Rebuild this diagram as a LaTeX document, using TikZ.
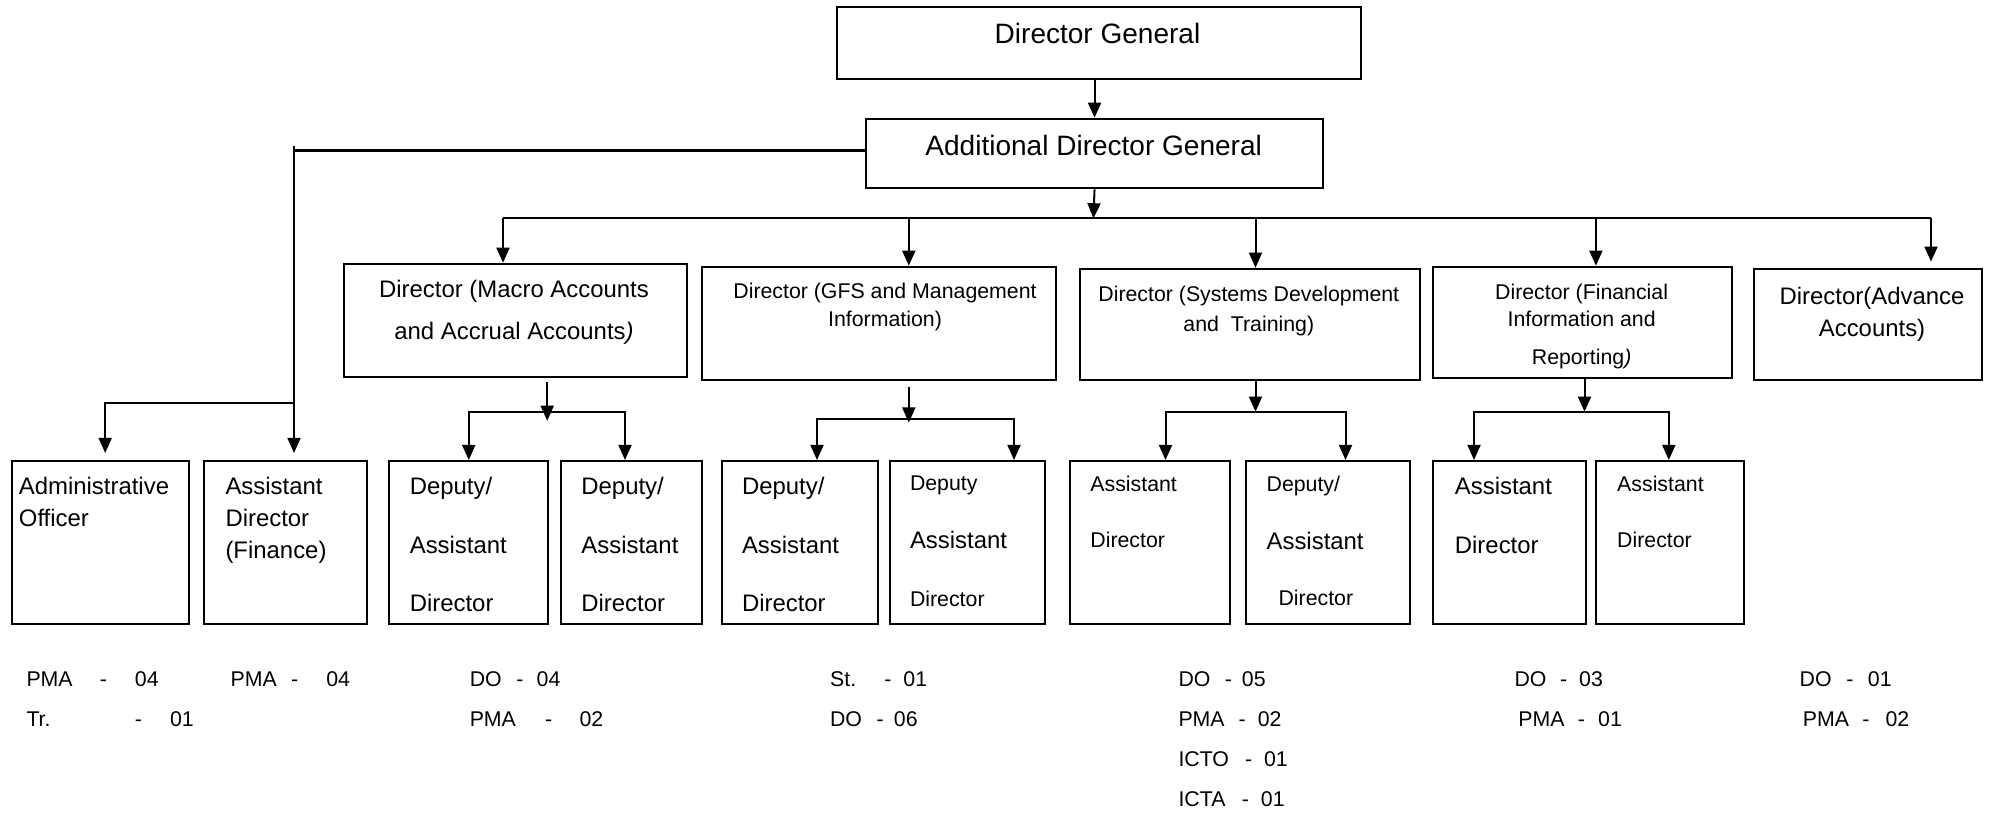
\documentclass[tikz,border=0pt]{standalone}
\usepackage{fontspec}
\setmainfont{Liberation Sans}
\usetikzlibrary{arrows.meta,calc}
\newcommand{\fs}{\fontsize{6.06}{7}\selectfont}
\newcommand{\stf}[4]{\makebox[#2pt][l]{#1}\makebox[#3pt][l]{-}#4}

\begin{document}
\begin{tikzpicture}[x=0.01cm,y=-0.01cm,line width=0.57pt,>={Triangle[length=4.3pt,width=3.7pt]},
box/.style={draw,inner sep=0pt,anchor=north west},sub/.style={box,minimum height=1.627cm},
txt/.style={inner sep=0pt,align=left,anchor=north west},ctr/.style={inner sep=0pt,align=center,anchor=north},
big/.style={font=\fontsize{7.97}{9.5}\selectfont},mid/.style={font=\fontsize{6.8}{#1}\selectfont},sml/.style={font=\fontsize{6.06}{#1}\selectfont}]
\useasboundingbox (0,0) rectangle (1994,812);
% head of the office
\node[box,minimum width=5.239cm,minimum height=0.723cm] (dg) at (835.5,5.7) {};
\node[big,inner sep=0pt,anchor=base] (dg-t) at (1097.5,43.3) {Director General};
\node[box,minimum width=4.56cm,minimum height=0.696cm] (adg) at (865.4,117.7) {};
\node[big,inner sep=0pt,anchor=base] (adg-t) at (1093.7,155) {Additional Director General};
% directors
\node[box,minimum width=3.426cm,minimum height=1.133cm] (macro) at (343,262.7) {};
\node[ctr,mid=11.87] (macro-t) at (514,279.5) {Director (Macro Accounts\\and Accrual Accounts\textit{)}};
\node[box,minimum width=3.536cm,minimum height=1.136cm] (gfs) at (700.9,265.7) {};
\node[ctr,sml=8.05] (gfs-t) at (885,282.1) {Director (GFS and Management\\Information)};
\node[box,minimum width=3.404cm,minimum height=1.116cm] (sys) at (1078.6,267.7) {};
\node[ctr,sml=8.71] (sys-t) at (1248.8,284.8) {Director (Systems Development\\and\ \ Training)};
\node[box,minimum width=2.987cm,minimum height=1.11cm] (fin) at (1432.3,265.7) {};
\node[ctr,sml=7.85] (fin-t) at (1581.6,282.8) {Director (Financial\\Information and\\[2.88pt]Reporting\textit{)}};
\node[box,minimum width=2.288cm,minimum height=1.107cm] (adv) at (1752.5,268.3) {};
\node[ctr,mid=9.02] (adv-t) at (1872,286.2) {Director(Advance\\Accounts)};
% officers
\node[sub,minimum width=1.775cm] (ao) at (10.5,460) {};
\node[txt,mid=9.02] (ao-t) at (17.9,476.2) {Administrative\\Officer};
\node[sub,minimum width=1.626cm] (adf) at (203.4,460) {};
\node[txt,mid=9.1] (adf-t) at (224.5,476.2) {Assistant\\Director\\(Finance)};
\node[sub,minimum width=1.588cm] (dad1) at (388.4,460) {};
\node[txt,mid=16.7] (dad1-t) at (408.8,476.2) {Deputy/\\Assistant\\Director};
\node[sub,minimum width=1.409cm] (dad2) at (560,460) {};
\node[txt,mid=16.7] (dad2-t) at (580.4,476.2) {Deputy/\\Assistant\\Director};
\node[sub,minimum width=1.562cm] (dad3) at (720.7,460) {};
\node[txt,mid=16.7] (dad3-t) at (741,476.2) {Deputy/\\Assistant\\Director};
\node[sub,minimum width=1.55cm] (dad4) at (889.3,460) {};
\node[txt,mid=16.6] (dad4-t) at (909,474.5) {{\fs Deputy}\\Assistant\\{\fs Director}};
\node[sub,minimum width=1.603cm] (ad1) at (1068.5,460) {};
\node[txt,sml=15.93] (ad1-t) at (1089.4,475.4) {Assistant\\Director};
\node[sub,minimum width=1.642cm] (dad5) at (1244.7,460) {};
\node[txt,mid=16.4] (dad5-t) at (1265.6,475.4) {{\fs Deputy/}\\Assistant\\[-0.55pt]\hspace*{3.4pt}{\fs Director}};
\node[sub,minimum width=1.522cm] (ad2) at (1432.3,460) {};
\node[txt,mid=16.9] (ad2-t) at (1453.9,476.2) {Assistant\\Director};
\node[sub,minimum width=1.478cm] (ad3) at (1595.2,460) {};
\node[txt,sml=15.93] (ad3-t) at (1616.2,475.4) {Assistant\\Director};
% staff strength
\node[txt,sml=11.38] (ao-s) at (25.5,670.6) {\stf{PMA}{20.88}{9.96}{04}\\\stf{Tr.}{30.84}{9.99}{01}};
\node[txt,sml=11.38] (adf-s) at (229.6,670.6) {\stf{PMA}{17.24}{9.99}{04}};
\node[txt,sml=11.38] (macro-s) at (468.75,670.6) {\stf{DO}{13.23}{5.8}{04}\\\stf{PMA}{21.43}{9.79}{02}};
\node[txt,sml=11.38] (gfs-s) at (829.1,670.6) {\stf{St.}{15.42}{5.43}{01}\\\stf{DO}{13.23}{4.92}{06}};
\node[txt,sml=11.38] (sys-s) at (1177.5,670.6) {\stf{DO}{13.17}{4.87}{05}\\\stf{PMA}{17.13}{5.41}{02}\\\stf{ICTO}{18.92}{5.41}{01}\\\stf{ICTA}{18.04}{5.41}{01}};
\node[txt,sml=11.38] (fin-s) at (1513.5,670.6) {\stf{DO}{12.97}{5.41}{03}\\\hspace*{1.08pt}\stf{PMA}{16.96}{5.75}{01}};
\node[txt,sml=11.38] (adv-s) at (1798.7,670.6) {\stf{DO}{13.3}{6.1}{01}\\\hspace*{0.91pt}\stf{PMA}{16.9}{6.6}{02}};
% connectors
\draw[->] (adg.north |- dg.south) -- (adg.north);
\coordinate (bus) at (1093.4,218.3);
\draw[->] (adg.south) -- (bus);
\coordinate (b1) at (503,218.3);
\coordinate (b2) at (908.8,218.3);
\coordinate (b3) at (1255.5,218.3);
\coordinate (b4) at (1595.9,218.3);
\coordinate (b5) at (1931,218.3);
\draw (b1) -- (b5);
\draw[->] (b1) -- (b1 |- macro.north);
\draw[->] (b2) -- (b2 |- gfs.north);
\draw[->] (b3) -- (b3 |- sys.north);
\draw[->] (b4) -- (b4 |- fin.north);
\draw[->,shorten >=1.9pt] (b5) -- (b5 |- adv.north);
% left branch
\coordinate (lf) at (294,150.5);
\coordinate (lb) at (294,403.3);
\coordinate (ao-x) at (105.2,403.3);
\draw (lf -| adg.west) -- (lf);
\draw[->,shorten >=2pt] ([yshift=1.2pt]lf) -- (lf |- adf.north);
\draw[->,shorten >=2pt] (lb) -- (ao-x) -- (ao-x |- ao.north);
% macro
\coordinate (m-j) at (547.2,412.3);
\coordinate (m-l) at (468.75,412.3);
\coordinate (m-r) at (625,412.3);
\draw[->] ([yshift=-1.1pt]macro.south -| m-j) -- ([yshift=-2.4pt]m-j);
\draw[<->] (m-l |- dad1.north) -- (m-l) -- (m-r) -- (m-r |- dad2.north);
% gfs
\coordinate (g-j) at (908.8,418.7);
\coordinate (g-l) at (817,418.7);
\coordinate (g-r) at (1014,418.7);
\draw[->] ([yshift=-1.6pt]gfs.south -| g-j) -- ([yshift=-1.1pt]g-j);
\draw[<->] (g-l |- dad3.north) -- (g-l) -- (g-r) -- (g-r |- dad4.north);
% systems
\coordinate (s-j) at (1255.5,411.7);
\coordinate (s-l) at (1165.5,411.7);
\coordinate (s-r) at (1345.5,411.7);
\draw[->] (sys.south -| s-j) -- (s-j);
\draw[<->] (s-l |- ad1.north) -- (s-l) -- (s-r) -- (s-r |- dad5.north);
% financial
\coordinate (f-j) at (1584.5,411.7);
\coordinate (f-l) at (1474,411.7);
\coordinate (f-r) at (1668.8,411.7);
\draw[->] (fin.south -| f-j) -- (f-j);
\draw[<->] (f-l |- ad2.north) -- (f-l) -- (f-r) -- (f-r |- ad3.north);
\end{tikzpicture}
\end{document}
